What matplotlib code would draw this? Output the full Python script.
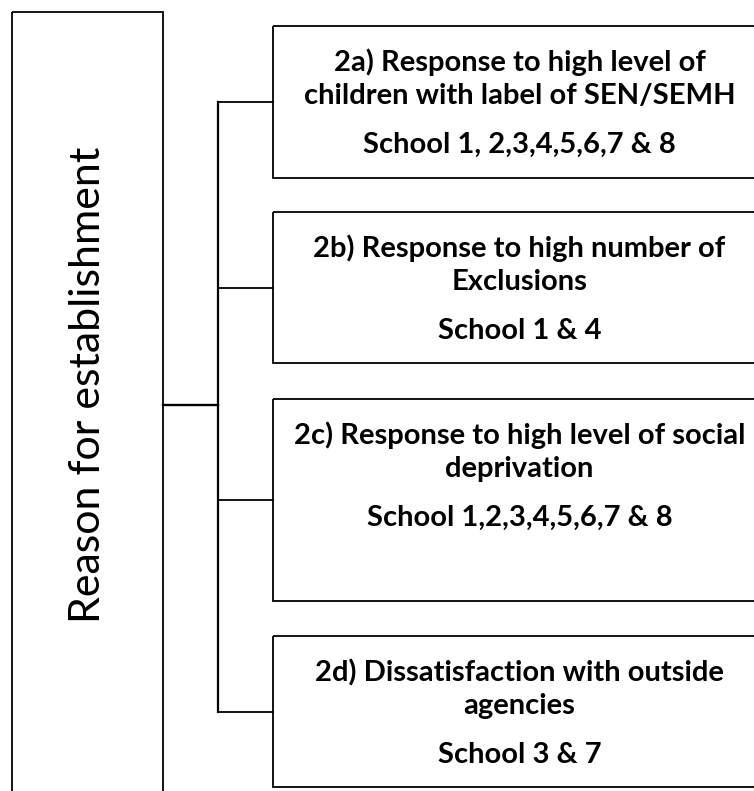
import matplotlib.pyplot as plt
from matplotlib.patches import Rectangle

# diagram content
root_label = "Reason for establishment"
headings = [
    "2a) Response to high level of\nchildren with label of SEN/SEMH",
    "2b) Response to high number of\nExclusions",
    "2c) Response to high level of social\ndeprivation",
    "2d) Dissatisfaction with outside\nagencies",
]
schools = [
    "School 1, 2,3,4,5,6,7 & 8",
    "School 1 & 4",
    "School 1,2,3,4,5,6,7 & 8",
    "School 3 & 7",
]

# layout in pixel units (top, bottom of each child box)
box_top = [26, 212, 399, 636]
box_bot = [178, 363, 601, 787]
box_x0, box_x1 = 273, 766
stem_x = 218
root_x0, root_x1, root_y0, root_y1 = 12, 163, 12, 800
root_join_y = 405

W, H = 754, 791
fig = plt.figure(figsize=(W / 100, H / 100), dpi=100)
ax = fig.add_axes([0, 0, 1, 1])
ax.set_xlim(0, W)
ax.set_ylim(H, 0)
ax.axis("off")

lw = 1.3
ax.add_patch(Rectangle((root_x0, root_y0), root_x1 - root_x0, root_y1 - root_y0,
                       fill=False, lw=lw, ec="black"))
ax.text(88, 385, root_label, rotation=90,
        ha="center", va="center", fontsize=31, family="Lato")

mids = [(t + b) / 2 for t, b in zip(box_top, box_bot)]
ax.plot([root_x1, stem_x], [root_join_y, root_join_y], color="black", lw=1.7)
ax.plot([stem_x, stem_x], [mids[0], mids[-1]], color="black", lw=1.6)

for top, bot, mid, head, sch in zip(box_top, box_bot, mids, headings, schools):
    ax.add_patch(Rectangle((box_x0, top), box_x1 - box_x0, bot - top,
                           fill=False, lw=lw, ec="black"))
    ax.plot([stem_x, box_x0], [mid, mid], color="black", lw=lw)
    cx = (box_x0 + box_x1) / 2
    ax.text(cx, top + 53, head, ha="center", va="center", fontsize=21,
            fontweight="bold", family="Lato", linespacing=1.32)
    ax.text(cx, top + 119, sch, ha="center", va="center", fontsize=21,
            fontweight="bold", family="Lato")

fig.savefig("out.png", dpi=100)
